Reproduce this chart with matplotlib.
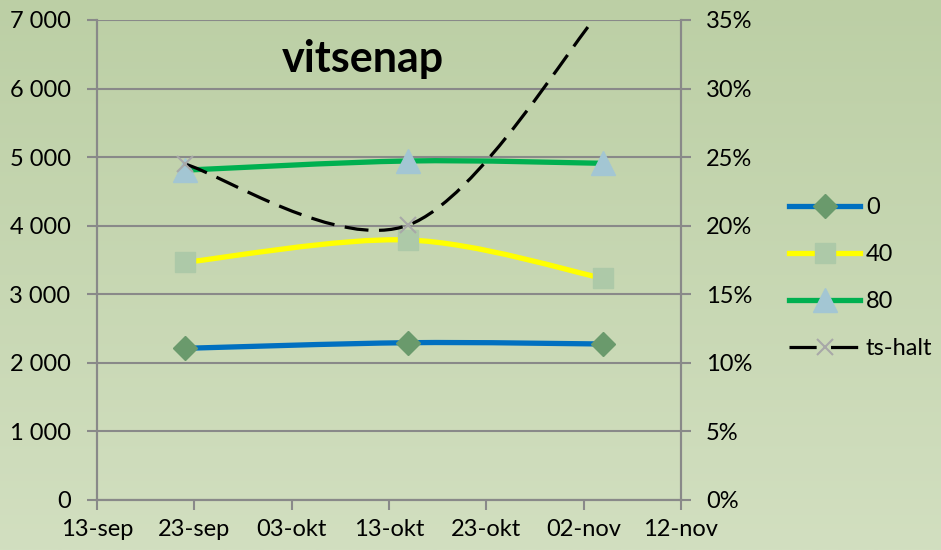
import numpy as np
import matplotlib
matplotlib.use("Agg")
import matplotlib.pyplot as plt
import matplotlib.dates as mdates
from matplotlib.path import Path
from matplotlib.patches import PathPatch
from matplotlib.lines import Line2D
from matplotlib.ticker import FuncFormatter
import datetime as dt

# data
dates = [dt.date(2011, 9, 22), dt.date(2011, 10, 15), dt.date(2011, 11, 4)]
s0 = [2212, 2294, 2275]
s40 = [3466, 3792, 3233]
s80 = [4810, 4944, 4910]
ts_halt = [0.245, 0.2005, 0.359]

xtick_dates = [dt.date(2011, 9, 13) + dt.timedelta(days=10 * i) for i in range(7)]
xtick_labels = ["13-sep", "23-sep", "03-okt", "13-okt", "23-okt", "02-nov", "12-nov"]

plt.rcParams['font.family'] = ['Lato', 'DejaVu Sans']


def smooth_path(x, y):
    # excel style smoothed line: cubic bezier, control points from neighbours
    pts = np.column_stack([x, y]).astype(float)
    n = len(pts)
    verts = [pts[0]]
    codes = [Path.MOVETO]
    for i in range(n - 1):
        p_prev = pts[i - 1] if i > 0 else pts[i]
        p_next2 = pts[i + 2] if i + 2 < n else pts[i + 1]
        c1 = pts[i] + (pts[i + 1] - p_prev) / 6.0
        c2 = pts[i + 1] - (p_next2 - pts[i]) / 6.0
        verts += [c1, c2, pts[i + 1]]
        codes += [Path.CURVE4] * 3
    return Path(verts, codes)


def draw_series(ax, x, y, color, lw, ls='-', z=3):
    patch = PathPatch(smooth_path(x, y), fill=False, edgecolor=color, lw=lw,
                      linestyle=ls, capstyle='butt', zorder=z)
    ax.add_patch(patch)


def main():
    fig = plt.figure(figsize=(9.41, 5.5), dpi=100)

    # gradient background
    bg = fig.add_axes([0, 0, 1, 1], zorder=-10)
    top = np.array([188, 207, 165]) / 255
    bot = np.array([210, 223, 192]) / 255
    t = np.linspace(0, 1, 256)[:, None]
    grad = top[None, :] * (1 - t) + bot[None, :] * t
    bg.imshow(grad[:, None, :], aspect='auto', extent=[0, 1, 0, 1])
    bg.axis('off')

    ax = fig.add_axes([97 / 941, 1 - 500 / 550, 584 / 941, 480 / 550])
    ax.patch.set_alpha(0)
    ax2 = ax.twinx()
    ax2.patch.set_alpha(0)

    x = mdates.date2num(dates)
    grid_c = '#898989'
    fs = 17

    ax.set_xlim(mdates.date2num(xtick_dates[0]), mdates.date2num(xtick_dates[-1]))
    ax.set_ylim(0, 7000)
    ax2.set_ylim(0, 0.35)
    ax.set_yticks(np.arange(0, 7001, 1000))
    ax2.set_yticks(np.arange(0, 0.351, 0.05))
    ax.set_xticks(mdates.date2num(xtick_dates))
    ax.set_xticklabels(xtick_labels)
    ax.yaxis.set_major_formatter(FuncFormatter(lambda v, p: f"{int(v):,}".replace(",", " ")))
    ax2.yaxis.set_major_formatter(FuncFormatter(lambda v, p: f"{v * 100:.0f}%"))

    for a in (ax, ax2):
        a.spines['top'].set_visible(False)
        for side in ('left', 'right', 'bottom'):
            a.spines[side].set_color(grid_c)
            a.spines[side].set_linewidth(1.5)
        a.tick_params(colors=grid_c, labelcolor='black', labelsize=fs,
                      length=7, width=1.5)
    ax.tick_params(axis='x', pad=7)
    ax.tick_params(axis='y', pad=12)
    ax2.tick_params(axis='y', pad=11)
    ax.grid(axis='y', color=grid_c, lw=1.5)
    ax.set_axisbelow(True)

    # value lines
    draw_series(ax, x, s0, '#0070C0', 3.8)
    draw_series(ax, x, s40, '#FFFF00', 3.8)
    draw_series(ax, x, s80, '#00B050', 3.8)
    ax.plot(x, s0, ls='none', marker='D', ms=12, color='#6A9A6C', zorder=4)
    ax.plot(x, s40, ls='none', marker='s', ms=15, color='#ADC9A8', zorder=4)
    ax.plot(x, s80, ls='none', marker='^', ms=17, color='#A3C6D3', zorder=4)

    # ts-halt on right axis
    draw_series(ax2, x, ts_halt, 'black', 2.3, ls=(0, (7.5, 3.3)), z=5)
    ax2.plot(x, ts_halt, ls='none', marker='x', ms=11, mew=1.5, color='#A8A8A8', zorder=6)

    ax.text(0.455, 0.919, "vitsenap", transform=ax.transAxes, ha='center', va='center',
            fontsize=31, fontweight='bold')

    handles = [
        Line2D([], [], color='#0070C0', lw=3.8, marker='D', ms=12, mfc='#6A9A6C', mec='#6A9A6C'),
        Line2D([], [], color='#FFFF00', lw=3.8, marker='s', ms=15, mfc='#ADC9A8', mec='#ADC9A8'),
        Line2D([], [], color='#00B050', lw=3.8, marker='^', ms=17, mfc='#A3C6D3', mec='#A3C6D3'),
        Line2D([], [], color='black', lw=2.3, ls=(0, (8.5, 4.5)), marker='x', ms=11, mew=1.5,
               mec='#A8A8A8'),
    ]
    fig.legend(handles, ["0", "40", "80", "ts-halt"], loc='center left',
               bbox_to_anchor=(768 / 941, 1 - 278 / 550), frameon=False,
               fontsize=fs, handlelength=3.0, handletextpad=0.25, labelspacing=1.1)

    fig.savefig("out.png", dpi=100)


if __name__ == "__main__":
    main()
